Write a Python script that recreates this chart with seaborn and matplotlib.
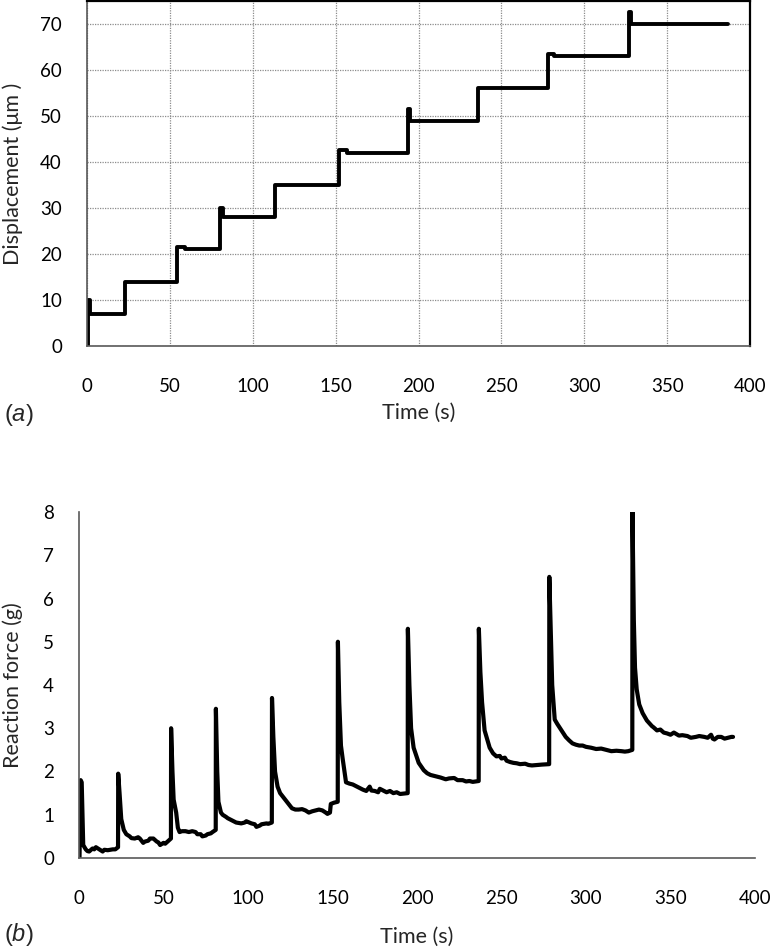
import matplotlib
matplotlib.use("Agg")
import matplotlib.pyplot as plt
import seaborn as sns
import pandas as pd

# ---- Data: panel (a) displacement steps (steps-post) ----
t_disp = [0, 0.6, 2.0, 23.0, 54.0, 59.0, 80.5, 82.0, 113.4, 152.0, 157.0,
          193.6, 195.0, 236.0, 278.0, 282.0, 327.0, 328.5, 387.0]
d_disp = [0, 10, 7, 14, 21.5, 21, 30, 28, 35, 42.5, 42,
          51.5, 49, 56, 63.5, 63, 72.5, 70, 70]

# ---- Data: panel (b) reaction force ----
t_force = [0.3, 1.0, 1.6, 2.5, 4, 5, 6, 8, 9, 10, 12, 14, 15, 17, 20, 21.5, 23.1,
           23.2, 24.0, 25, 26.5, 28, 30, 31, 33, 35, 36, 38, 39, 41, 42, 44, 46, 47, 48, 50, 51, 53, 54.4,
           54.5, 55.3, 56, 57.5, 58.5, 59.5, 61, 63, 65, 67, 69, 70, 72, 73, 75, 76, 78, 79, 80.9,
           81.0, 81.8, 82.5, 84, 85, 87, 88, 90, 91, 93, 96, 98, 99, 102, 104, 105, 107, 108, 111, 112, 114.1,
           114.2, 115, 116, 117.5, 119, 121, 123, 125, 126, 128, 130, 132, 134, 136, 138, 140, 142, 144,
           146, 147, 148.5, 149, 151, 153.1,
           153.2, 154, 155, 156, 157.5, 158, 160, 162, 164, 166, 168, 170, 171, 172, 173, 175, 177, 178,
           180, 182, 184, 186, 188, 190, 192, 194.5,
           194.6, 195.5, 196.5, 198, 201, 204, 206, 208, 210, 212, 214, 217, 219, 222, 224, 227, 229,
           231, 233, 236.5,
           236.6, 237.5, 238.5, 240, 243, 245, 247, 249, 250, 252, 253, 255, 257, 259, 261, 264, 266,
           268, 271, 274, 278.2,
           278.3, 279.3, 280, 281.5, 283, 285, 288, 290, 292, 294, 296, 298, 300, 303, 306, 309, 312,
           315, 318, 321, 323, 325, 327.4,
           327.5, 328.3, 329, 330, 331.5, 333.5, 336, 339, 340, 342, 344, 346, 348, 350, 352, 355, 357,
           360, 362, 365, 367, 370, 372, 374, 375, 376, 378, 380, 382, 384, 386, 387]
f_force = [0.0, 1.8, 1.75, 0.3, 0.2, 0.16, 0.15, 0.22, 0.2, 0.25, 0.2, 0.15, 0.19, 0.18, 0.2, 0.2, 0.25,
           1.95, 1.5, 0.9, 0.65, 0.55, 0.5, 0.46, 0.45, 0.48, 0.45, 0.35, 0.38, 0.4, 0.45, 0.45, 0.38,
           0.36, 0.3, 0.35, 0.33, 0.4, 0.45,
           3.0, 2.0, 1.35, 1.05, 0.7, 0.6, 0.62, 0.62, 0.6, 0.62, 0.6, 0.55, 0.55, 0.5, 0.52, 0.55, 0.57,
           0.6, 0.65,
           3.45, 2.0, 1.3, 1.05, 1.0, 0.95, 0.92, 0.88, 0.86, 0.82, 0.8, 0.82, 0.85, 0.8, 0.78, 0.72,
           0.75, 0.78, 0.8, 0.79, 0.82,
           3.7, 2.8, 2.0, 1.65, 1.5, 1.4, 1.3, 1.2, 1.15, 1.12, 1.12, 1.13, 1.1, 1.05, 1.08, 1.1, 1.12,
           1.1, 1.05, 1.02, 1.05, 1.25, 1.28, 1.3,
           5.0, 3.6, 2.6, 2.3, 1.9, 1.75, 1.72, 1.7, 1.66, 1.62, 1.58, 1.55, 1.6, 1.65, 1.56, 1.55,
           1.52, 1.6, 1.56, 1.52, 1.55, 1.5, 1.52, 1.48, 1.49, 1.5,
           5.3, 4.0, 3.0, 2.55, 2.2, 2.03, 1.96, 1.92, 1.9, 1.88, 1.86, 1.82, 1.84, 1.85, 1.8, 1.8,
           1.77, 1.78, 1.76, 1.78,
           5.3, 4.3, 3.6, 2.95, 2.55, 2.42, 2.35, 2.36, 2.3, 2.32, 2.25, 2.22, 2.2, 2.19, 2.17, 2.18,
           2.15, 2.14, 2.15, 2.16, 2.17,
           6.5, 5.0, 4.0, 3.2, 3.1, 2.98, 2.8, 2.72, 2.65, 2.62, 2.6, 2.6, 2.57, 2.55, 2.52, 2.53, 2.5,
           2.47, 2.48, 2.47, 2.46, 2.47, 2.5,
           8.0, 5.5, 4.4, 3.9, 3.55, 3.35, 3.18, 3.05, 3.02, 2.95, 2.97, 2.9, 2.88, 2.85, 2.9, 2.83,
           2.84, 2.82, 2.78, 2.8, 2.82, 2.8, 2.78, 2.85, 2.76, 2.74, 2.8, 2.8, 2.76, 2.78, 2.8, 2.8]

x_ticks = [0, 50, 100, 150, 200, 250, 300, 350, 400]
disp_ticks = [0, 10, 20, 30, 40, 50, 60, 70]
force_ticks = [0, 1, 2, 3, 4, 5, 6, 7, 8]

sns.set_theme(style="white")
FONT = ["Lato", "DejaVu Sans"]
plt.rcParams["font.family"] = FONT
plt.rcParams["mathtext.fontset"] = "custom"
plt.rcParams["mathtext.it"] = "Liberation Sans:italic"
plt.rcParams["mathtext.rm"] = "Liberation Sans"

fig = plt.figure(figsize=(7.72, 9.52), dpi=100)
W, H = 772, 952

def ax_rect(l, r, t, b):
    return [l / W, 1 - b / H, (r - l) / W, (b - t) / H]

ax1 = fig.add_axes(ax_rect(87, 750, 1, 346))
ax2 = fig.add_axes(ax_rect(79, 755, 512, 858))

df_a = pd.DataFrame({"t": t_disp, "d": d_disp})
df_b = pd.DataFrame({"t": t_force, "f": f_force})

sns.lineplot(data=df_a, x="t", y="d", ax=ax1, color="black", lw=2.8,
             drawstyle="steps-post", sort=False, estimator=None)
sns.lineplot(data=df_b, x="t", y="f", ax=ax2, color="black", lw=3.0,
             sort=False, estimator=None)

TICK_FS = 13.5
LBL_FS = 15.5
GREY = "#595959"

# Panel (a)
ax1.set_xlim(0, 400)
ax1.set_ylim(0, 75)
ax1.set_xticks(x_ticks)
ax1.set_yticks(disp_ticks)
ax1.grid(True, which="major", color="#8c8c8c", linestyle=(0, (1, 1)), linewidth=0.9)
for s in ["top", "right"]:
    ax1.spines[s].set_color("black")
    ax1.spines[s].set_linewidth(1.6)
for s in ["left", "bottom"]:
    ax1.spines[s].set_color(GREY)
    ax1.spines[s].set_linewidth(1.2)
ax1.tick_params(axis="both", direction="out", length=6, width=1, color=GREY,
                labelsize=TICK_FS, labelcolor="black")
ax1.tick_params(axis="x", pad=17)
ax1.tick_params(axis="y", pad=12)
ax1.set_xlabel("Time (s)", fontsize=LBL_FS)
ax1.set_ylabel("Displacement (\u03bcm )", fontsize=LBL_FS)
ax1.xaxis.set_label_coords(0.5, (346 - 413) / 345)
ax1.xaxis.label.set_va("center")
ax1.yaxis.set_label_coords((13 - 87) / 663, 0.5)
ax1.yaxis.label.set_va("center")

# Panel (b)
ax2.set_xlim(0, 400)
ax2.set_ylim(0, 8)
ax2.set_xticks(x_ticks)
ax2.set_yticks(force_ticks)
ax2.grid(False)
sns.despine(ax=ax2)
for s in ["left", "bottom"]:
    ax2.spines[s].set_color(GREY)
    ax2.spines[s].set_linewidth(1.2)
ax2.tick_params(axis="both", direction="out", length=6, width=1, color=GREY,
                labelsize=TICK_FS, labelcolor="black")
ax2.tick_params(axis="x", pad=17)
ax2.tick_params(axis="y", pad=12)
ax2.set_xlabel("Time (s)", fontsize=LBL_FS)
ax2.set_ylabel("Reaction force (g)", fontsize=LBL_FS)
ax2.xaxis.set_label_coords(0.5, (858 - 937) / 346)
ax2.xaxis.label.set_va("center")
ax2.yaxis.set_label_coords((13 - 79) / 676, 0.5)
ax2.yaxis.label.set_va("center")

fig.text(4 / W, 1 - 415 / H, r"($\mathit{a}$)", fontsize=17, va="center",
         ha="left", family="Liberation Sans")
fig.text(4 / W, 1 - 935 / H, r"($\mathit{b}$)", fontsize=17, va="center",
         ha="left", family="Liberation Sans")

fig.savefig("out.png", dpi=100)
